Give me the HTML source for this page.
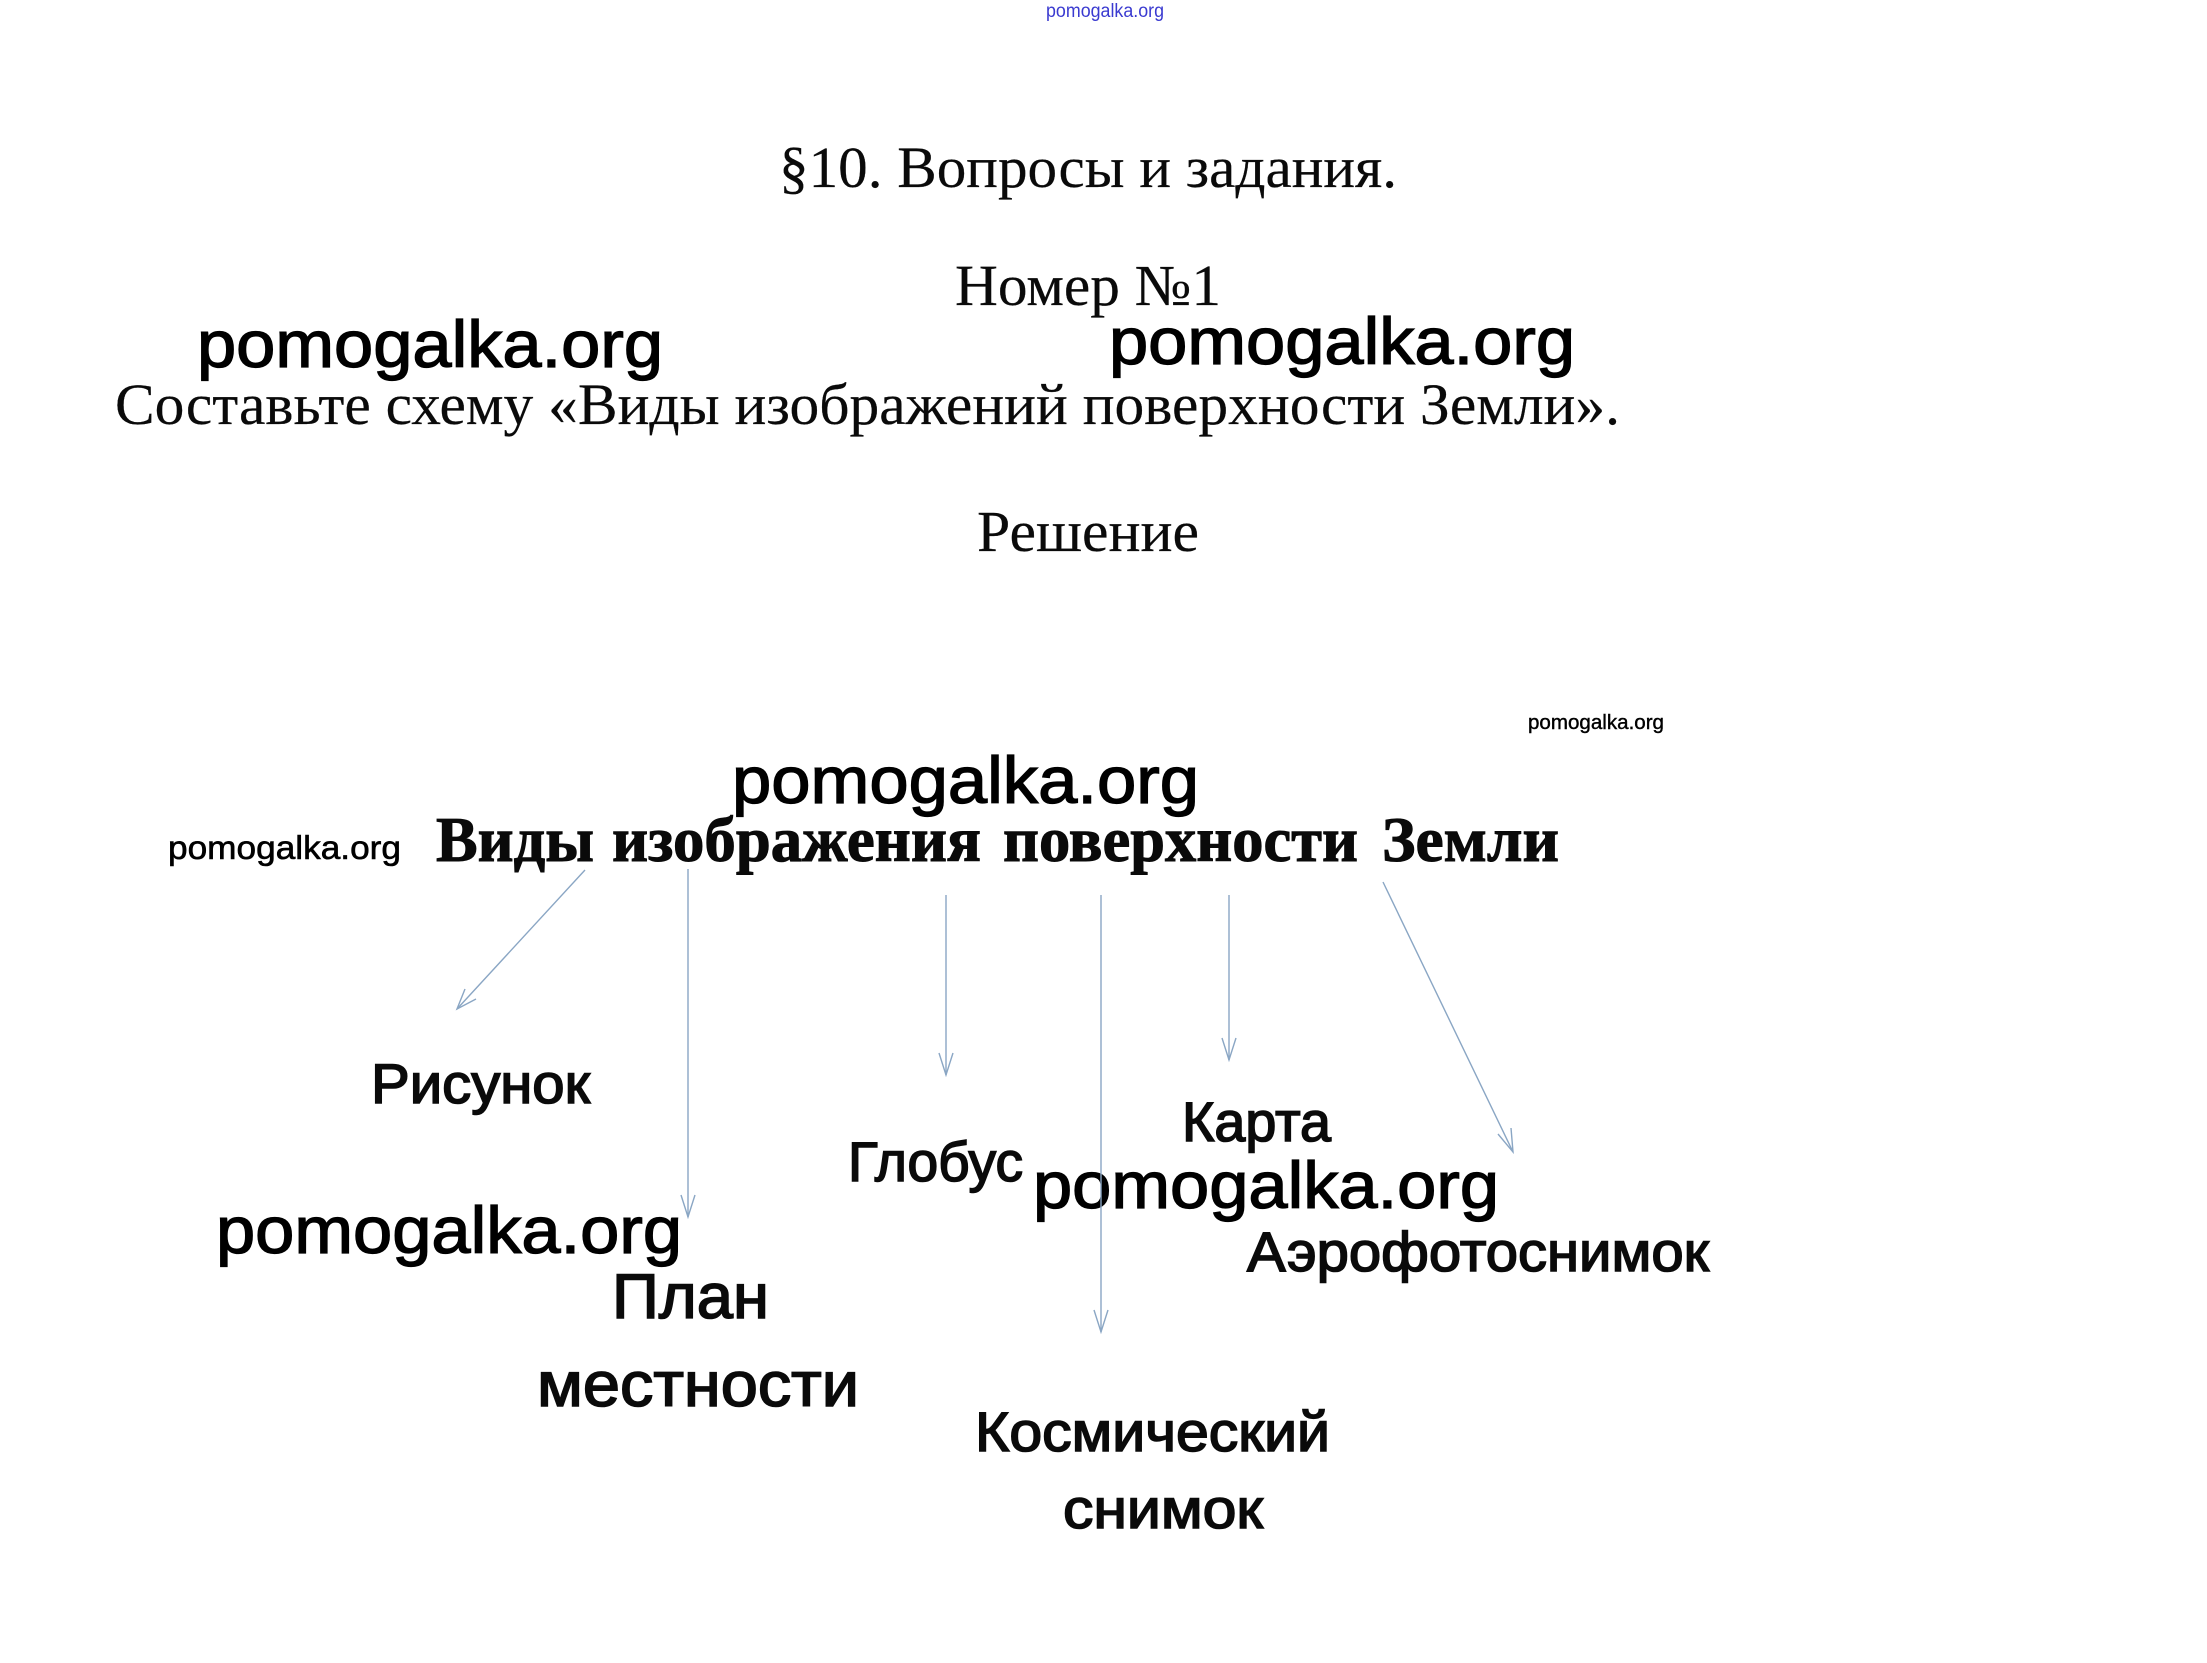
<!DOCTYPE html>
<html lang="ru">
<head>
<meta charset="utf-8">
<title>§10. Вопросы и задания</title>
<style>
html,body{margin:0;padding:0;background:#fff;width:2207px;height:1663px;overflow:hidden}
svg{display:block}
.s{font-family:"Liberation Serif","Noto Serif CJK SC",serif;font-size:58px;fill:#0a0a0a;stroke:#0a0a0a;stroke-width:.2}
.b{font-family:"Liberation Serif","Noto Serif CJK SC",serif;font-size:64px;font-weight:bold;fill:#0a0a0a;stroke:#0a0a0a;stroke-width:1}
.w{font-family:"Liberation Sans",sans-serif;font-size:66px;fill:#000;stroke:#000;stroke-width:1.3}
.w2{font-family:"Liberation Sans",sans-serif;font-size:33px;fill:#000;stroke:#000;stroke-width:.6}
.w3{font-family:"Liberation Sans",sans-serif;font-size:20px;fill:#000;stroke:#000;stroke-width:.4}
.l{font-family:"Liberation Sans",sans-serif;font-size:56px;fill:#0a0a0a;stroke:#0a0a0a;stroke-width:1.6}
.a{fill:none;stroke:#8aa6c4;stroke-width:1.4}
</style>
</head>
<body>
<svg width="2207" height="1663" viewBox="0 0 2207 1663" xmlns="http://www.w3.org/2000/svg">
<rect width="2207" height="1663" fill="#fff"/>

<text x="1046" y="17" textLength="118" lengthAdjust="spacingAndGlyphs" style="font-family:'Liberation Sans',sans-serif;font-size:19px;fill:#3a3ad0">pomogalka.org</text>

<text class="s" x="779" y="187" textLength="618" lengthAdjust="spacingAndGlyphs">§10. Вопросы и задания.</text>
<text class="s" x="955" y="305" textLength="266" lengthAdjust="spacingAndGlyphs">Номер №1</text>
<text class="s" x="115" y="424" textLength="1505" lengthAdjust="spacingAndGlyphs">Составьте схему «Виды изображений поверхности Земли».</text>
<text class="s" x="977" y="551" textLength="222" lengthAdjust="spacingAndGlyphs">Решение</text>

<text class="w" x="197" y="367" textLength="466" lengthAdjust="spacingAndGlyphs">pomogalka.org</text>
<text class="w" x="1109" y="364" textLength="466" lengthAdjust="spacingAndGlyphs">pomogalka.org</text>
<text class="w" x="732" y="803" textLength="467" lengthAdjust="spacingAndGlyphs">pomogalka.org</text>
<text class="w" x="1033" y="1208" textLength="466" lengthAdjust="spacingAndGlyphs">pomogalka.org</text>
<text class="w" x="216" y="1253" textLength="466" lengthAdjust="spacingAndGlyphs">pomogalka.org</text>

<text class="w3" x="1528" y="729" textLength="136" lengthAdjust="spacingAndGlyphs">pomogalka.org</text>
<text class="w2" x="168" y="859" textLength="233" lengthAdjust="spacingAndGlyphs">pomogalka.org</text>

<text class="b" x="436" y="861" textLength="158" lengthAdjust="spacingAndGlyphs">Виды</text>
<text class="b" x="612" y="861" textLength="369" lengthAdjust="spacingAndGlyphs">изображения</text>
<text class="b" x="1003" y="861" textLength="355" lengthAdjust="spacingAndGlyphs">поверхности</text>
<text class="b" x="1382" y="861" textLength="177" lengthAdjust="spacingAndGlyphs">Земли</text>

<g class="a">
<line x1="585" y1="870" x2="457" y2="1009"/><polyline points="476,999 457,1009 465,989"/>
<line x1="688" y1="869" x2="688" y2="1217"/><polyline points="681,1195 688,1217 695,1195"/>
<line x1="946" y1="895" x2="946" y2="1075"/><polyline points="939,1053 946,1075 953,1053"/>
<line x1="1101" y1="895" x2="1101" y2="1332"/><polyline points="1094,1310 1101,1332 1108,1310"/>
<line x1="1229" y1="895" x2="1229" y2="1060"/><polyline points="1222,1038 1229,1060 1236,1038"/>
<line x1="1383" y1="882" x2="1513" y2="1152"/><polyline points="1498,1134 1513,1152 1511,1128"/>
</g>

<text class="l" x="371" y="1103" textLength="219" lengthAdjust="spacingAndGlyphs">Рисунок</text>
<text class="l" x="1182" y="1141" textLength="149" lengthAdjust="spacingAndGlyphs">Карта</text>
<text class="l" x="848" y="1181" textLength="175" lengthAdjust="spacingAndGlyphs">Глобус</text>
<text class="l" x="1247" y="1271" textLength="462" lengthAdjust="spacingAndGlyphs">Аэрофотоснимок</text>
<text class="l" x="612" y="1318" textLength="157" lengthAdjust="spacingAndGlyphs" style="font-size:63px">План</text>
<text class="l" x="537" y="1406" textLength="322" lengthAdjust="spacingAndGlyphs" style="font-size:63px">местности</text>
<text class="l" x="975" y="1451" textLength="355" lengthAdjust="spacingAndGlyphs">Космический</text>
<text class="l" x="1063" y="1528" textLength="200" lengthAdjust="spacingAndGlyphs">снимок</text>
</svg>
</body>
</html>
